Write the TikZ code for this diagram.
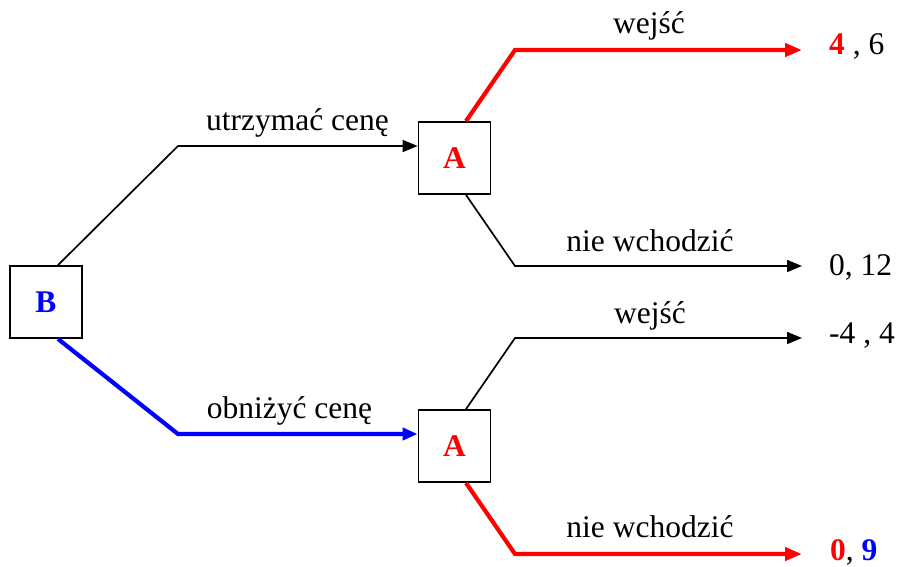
\documentclass[tikz,border=0pt]{standalone}
\usepackage{fontspec}
\setmainfont{Liberation Serif}
\usetikzlibrary{arrows.meta}
\definecolor{pred}{RGB}{255,0,0}
\definecolor{pblue}{RGB}{0,0,255}
\begin{document}
\begin{tikzpicture}[x=1pt,y=-1pt,
  font=\fontsize{31.5}{38}\selectfont,
  player/.style={draw=black,line width=1.8pt,minimum size=72pt,inner sep=0pt,
    font=\fontsize{31.5}{38}\selectfont\bfseries},
  edge/.style={line width=1.7pt,line join=miter},
  chosen/.style={line width=4.2pt,line join=miter},
  tip/.style={-{Triangle[length=15pt,width=12pt]}},
  bigtip/.style={-{Triangle[length=17pt,width=13pt]}},
  lbl/.style={anchor=base,inner sep=0pt},
  pay/.style={anchor=base west,inner sep=0pt}]
\useasboundingbox (0,0) rectangle (898,566);

% decision nodes
\node[player,text=pblue] (B)  at (46,302)    {B};
\node[player,text=pred]  (A1) at (454.5,158) {A};
\node[player,text=pred]  (A2) at (454.5,446) {A};

% bend points and branch ends
\coordinate (b1) at (178,146);
\coordinate (b2) at (178,434);
\coordinate (k1) at (515,50);
\coordinate (k2) at (515,266);
\coordinate (k3) at (515,338);
\coordinate (k4) at (515,554);
\coordinate (t1) at (802,50);
\coordinate (t2) at (802,266);
\coordinate (t3) at (802,338);
\coordinate (t4) at (802,554);

% first move (B)
\draw[edge,tip] ([xshift=12pt]B.north) -- (b1) -- ([yshift=12pt]A1.west);
\draw[chosen,tip,draw=pblue] ([xshift=12pt]B.south) -- (b2) -- ([yshift=12pt]A2.west);

% second move (A), upper subtree
\draw[chosen,bigtip,draw=pred] ([xshift=11.5pt]A1.north) -- (k1) -- (t1);
\draw[edge,tip] ([xshift=11.5pt]A1.south) -- (k2) -- (t2);

% second move (A), lower subtree
\draw[edge,tip] ([xshift=11.5pt]A2.north) -- (k3) -- (t3);
\draw[chosen,bigtip,draw=pred] ([xshift=11.5pt]A2.south) -- (k4) -- (t4);

% branch labels
\node[lbl] (l1) at (297.5,130) {utrzymać cenę};
\node[lbl] (l2) at (289.5,418) {obniżyć cenę};
\node[lbl] (l3) at (649,33)   {wejść};
\node[lbl] (l4) at (650,251)  {nie wchodzić};
\node[lbl] (l5) at (650,323)  {wejść};
\node[lbl] (l6) at (650,537)  {nie wchodzić};

% payoffs
\node[pay] (p1) at (829,54)  {\textcolor{pred}{\bfseries 4} , 6};
\node[pay] (p2) at (829,275) {0, 12};
\node[pay] (p3) at (829,343) {-4 , 4};
\node[pay] (p4) at (830,560) {\textcolor{pred}{\bfseries 0}, \textcolor{pblue}{\bfseries 9}};
\end{tikzpicture}
\end{document}
